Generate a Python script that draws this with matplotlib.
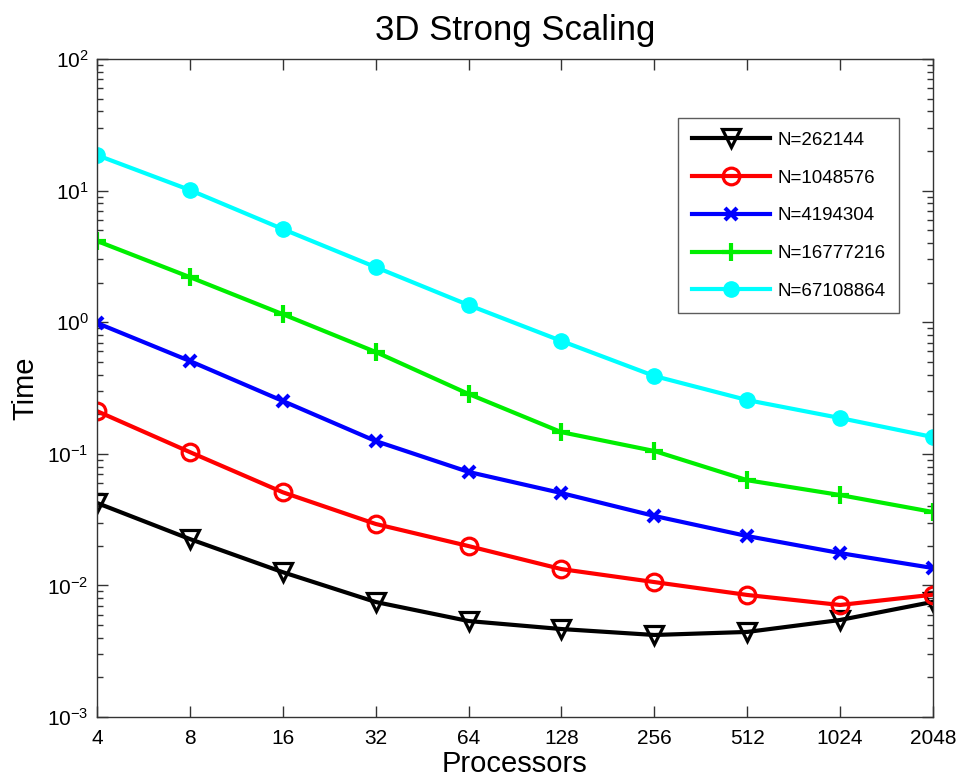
import matplotlib
matplotlib.use("Agg")
import matplotlib.pyplot as plt
from matplotlib.ticker import NullLocator, FixedLocator, FixedFormatter, LogLocator

plt.rcParams['font.family'] = ['Liberation Sans', 'DejaVu Sans']
plt.rcParams['mathtext.fontset'] = 'custom'
plt.rcParams['mathtext.rm'] = 'Liberation Sans'
plt.rcParams['mathtext.it'] = 'Liberation Sans:italic'

processors = [4, 8, 16, 32, 64, 128, 256, 512, 1024, 2048]
proc_labels = ["4", "8", "16", "32", "64", "128", "256", "512", "1024", "2048"]

t_262144   = [0.0423, 0.0225, 0.0126, 0.00748, 0.00536, 0.00466, 0.0042, 0.00443, 0.00546, 0.0075]
t_1048576  = [0.211, 0.103, 0.051, 0.0293, 0.0199, 0.0133, 0.0106, 0.00846, 0.0071, 0.0085]
t_4194304  = [0.986, 0.507, 0.252, 0.125, 0.0728, 0.0503, 0.0337, 0.0237, 0.0176, 0.01355]
t_16777216 = [4.14, 2.2, 1.15, 0.594, 0.285, 0.146, 0.105, 0.063, 0.0486, 0.0361]
t_67108864 = [18.6, 10.1, 5.1, 2.62, 1.35, 0.72, 0.39, 0.256, 0.187, 0.134]

labels = ["N=262144", "N=1048576", "N=4194304", "N=16777216", "N=67108864"]

fig = plt.figure(figsize=(9.59, 7.8), dpi=100)
ax = fig.add_axes([97/959, (780-717)/780, 836/959, 658/780])

lw = 3
ax.plot(processors, t_262144, color='black', lw=lw, marker='v', ms=13, mfc='none', mew=2.3, label=labels[0])
ax.plot(processors, t_1048576, color='red', lw=lw, marker='o', ms=12, mfc='none', mew=2.3, label=labels[1])
ax.plot(processors, t_4194304, color='blue', lw=lw, marker='x', ms=9, mew=3, label=labels[2])
ax.plot(processors, t_16777216, color='#00ee00', lw=lw, marker='+', ms=13, mew=3, label=labels[3])
ax.plot(processors, t_67108864, color='cyan', lw=lw, marker='o', ms=11, label=labels[4])

ax.set_xscale('log', base=2)
ax.set_yscale('log')
ax.set_xlim(4, 2048)
ax.set_ylim(1e-3, 1e2)
ax.xaxis.set_major_locator(FixedLocator(processors))
ax.xaxis.set_major_formatter(FixedFormatter(proc_labels))
ax.xaxis.set_minor_locator(NullLocator())
ax.yaxis.set_major_locator(LogLocator(base=10, numticks=10))
ax.yaxis.set_minor_locator(LogLocator(base=10, subs=range(2, 10), numticks=20))

ax.tick_params(which='both', direction='in', top=True, right=True, labelsize=15, color='#333333')
ax.tick_params(which='major', length=8, width=1)
ax.tick_params(axis='x', which='major', pad=9)
ax.tick_params(axis='y', which='major', pad=6)
ax.tick_params(which='minor', length=4, width=1)
for s in ax.spines.values():
    s.set_color('#333333')
    s.set_linewidth(1)

ax.set_title("3D Strong Scaling", fontsize=25, pad=14)
ax.set_xlabel("Processors", fontsize=21, labelpad=1)
ax.set_ylabel("Time", fontsize=21, labelpad=6)

leg = ax.legend(loc='upper right', bbox_to_anchor=(0.959, 0.910), fontsize=13.5,
                frameon=True, fancybox=False, edgecolor='#333333', handlelength=4.15,
                labelspacing=1.1, borderpad=0.72, handletextpad=0.4, borderaxespad=0)
leg.get_frame().set_linewidth(1)

fig.savefig("out.png", dpi=100)
